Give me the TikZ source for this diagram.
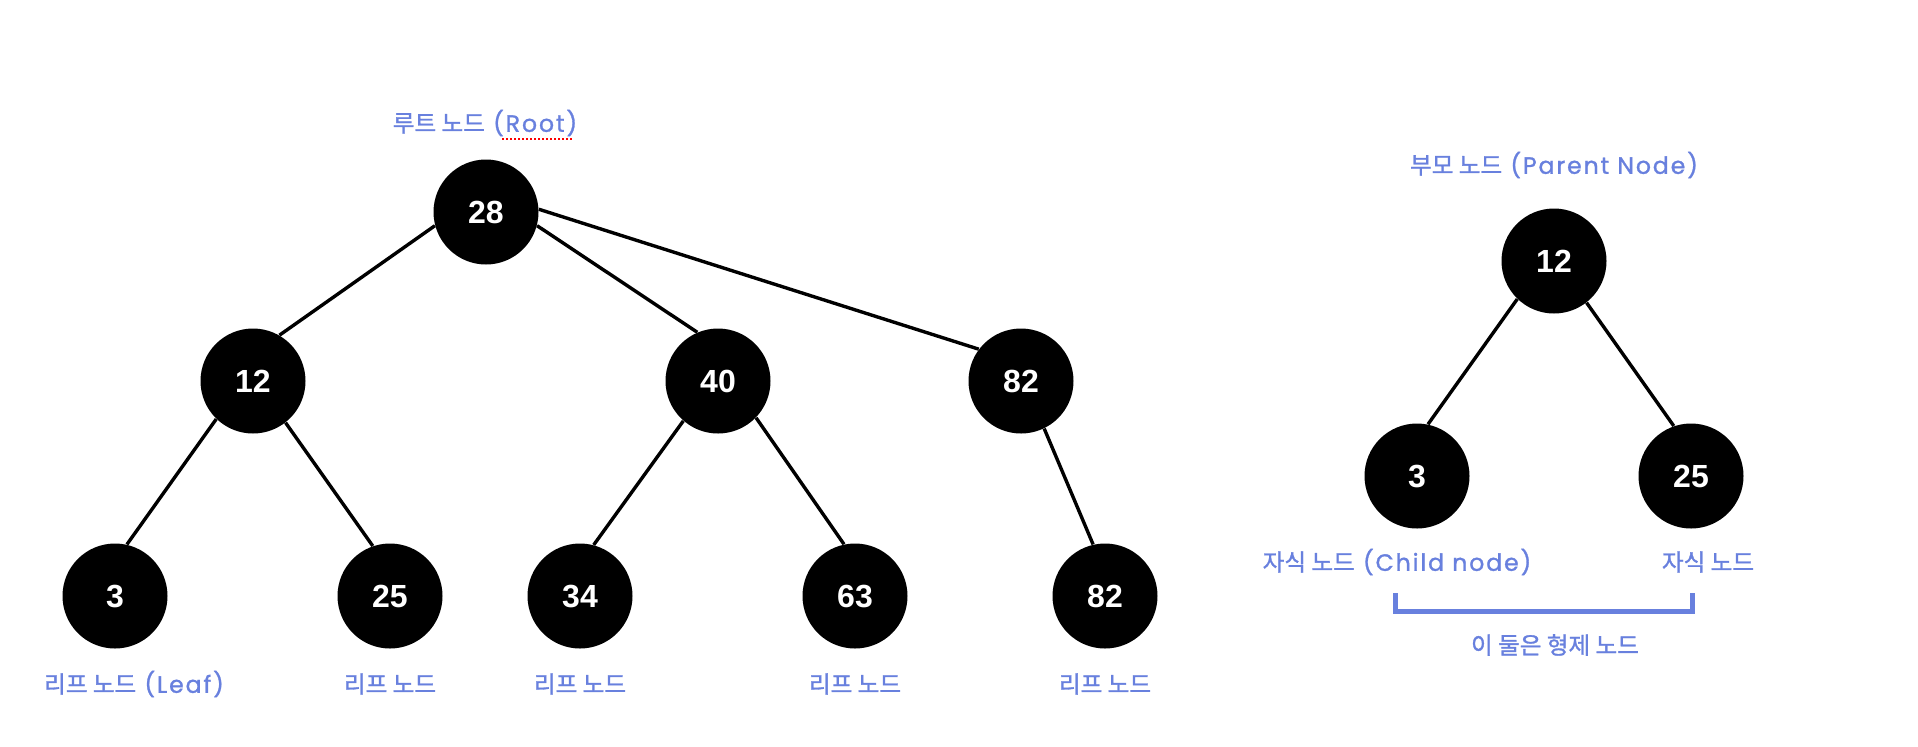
\documentclass[tikz,border=0pt]{standalone}
\usepackage{fontspec}
\usepackage{tikz}
\newfontfamily\numfont{Liberation Sans}
\newfontfamily\krfont[FakeBold = 1.2]{Noto Sans CJK KR}
\newfontfamily\latfont[LetterSpace = 8, FakeBold = 1.2]{Poppins}
\newcommand{\lat}[1]{{\latfont\ #1}}
\definecolor{lblue}{RGB}{104,128,222}

\begin{document}
\begin{tikzpicture}[x = 0.5pt, y = -0.5pt,
	tnode/.style = {circle, fill = black, minimum size = 52.5pt, inner sep = 0pt, text = white, font = \numfont\bfseries\fontsize{16}{16}\selectfont},
	lbl/.style = {text = lblue, inner sep = 0pt, font = \krfont\fontsize{11.8}{13}\selectfont},
	edge/.style = {line width = 1.7pt, black}]

		\fill[white] (0, 0) rectangle (1918, 746);
		\useasboundingbox (0, 0) rectangle (1918, 746);

		\node[tnode] (r28) at (486, 212) {28};
		\node[tnode] (m12) at (253, 381) {12};
		\node[tnode] (m40) at (718, 381) {40};
		\node[tnode] (m82) at (1021, 381) {82};
		\node[tnode] (l3) at (115, 596) {3};
		\node[tnode] (l25) at (390, 596) {25};
		\node[tnode] (l34) at (580, 596) {34};
		\node[tnode] (l63) at (855, 596) {63};
		\node[tnode] (l82) at (1105, 596) {82};

		\node[tnode] (p12) at (1554, 261) {12};
		\node[tnode] (c3) at (1417, 476) {3};
		\node[tnode] (c25) at (1691, 476) {25};

		\draw[edge] (r28.195) -- (m12.60);
		\draw[edge] (r28.-15) -- (m40.113);
		\draw[edge] (r28.3) -- (m82.143);
		\draw[edge] (m12.226) -- (l3.77);
		\draw[edge] (m12.308) -- (l25.109);
		\draw[edge] (m40.229) -- (l34.75);
		\draw[edge] (m40.316) -- (l63.102);
		\draw[edge] (m82.296) -- (l82.103);
		\draw[edge] (p12.226) -- (c3.78);
		\draw[edge] (p12.308) -- (c25.109);

		\node[lbl] (troot) at (485, 123) {루트 노드\lat{(Root)}};
		\draw[red, line width = 1pt, dash pattern = on 1pt off 1pt] (502, 139) -- (572, 139);
		\node[lbl] (tleaf) at (134, 684) {리프 노드\lat{(Leaf)}};
		\node[lbl] (tl25) at (390, 684) {리프 노드};
		\node[lbl] (tl34) at (580, 684) {리프 노드};
		\node[lbl] (tl63) at (855, 684) {리프 노드};
		\node[lbl] (tl82) at (1105, 684) {리프 노드};

		\node[lbl] (tpar) at (1554, 165) {부모 노드\lat{(Parent Node)}};
		\node[lbl] (tc3) at (1397, 562) {자식 노드\lat{(Child node)}};
		\node[lbl] (tc25) at (1708, 562) {자식 노드};

		\coordinate (bl) at (1395, 593);
		\coordinate (br) at (1692, 593);
		\draw[lblue, line width = 2.5pt] (bl) -- ++(0, 18) -| (br);
		\node[lbl] (tsib) at (1555, 645) {이 둘은 형제 노드};

	\end{tikzpicture}
\end{document}
